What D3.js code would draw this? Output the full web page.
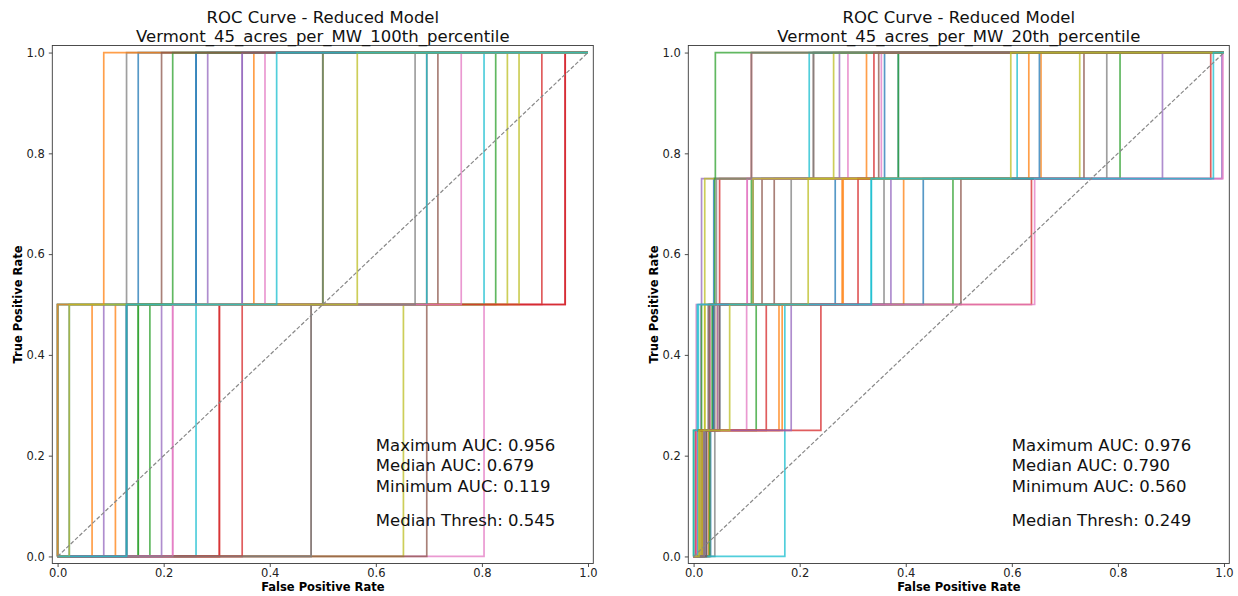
<!DOCTYPE html>
<html>
<head>
<meta charset="utf-8">
<script src="https://cdn.jsdelivr.net/npm/d3@7"></script>
<style>
  body { margin: 0; background: #fff; }
  svg { display: block; font-family: "DejaVu Sans", sans-serif; }
</style>
</head>
<body>
<div id="chart"></div>
<script>
// ROC step curves: FPR at which TPR rises by one step (1/n), in drawing order
const leftJumps = [
  [0.130, 0.152], [0.109, 0.370], [0.174, 0.826], [0.305, 0.913], [0.087, 0.283],
  [0.478, 0.717], [0.804, 0.957], [0.000, 0.130], [0.652, 0.848], [0.261, 0.804],
  [0.022, 0.261], [0.065, 0.500], [0.152, 0.500], [0.305, 0.957], [0.000, 0.348],
  [0.696, 0.696], [0.217, 0.391], [0.000, 0.500], [0.000, 0.870], [0.000, 0.696],
  [0.130, 0.261], [0.000, 0.087], [0.152, 0.217], [0.348, 0.957], [0.196, 0.348],
  [0.130, 0.196], [0.217, 0.761], [0.478, 0.674], [0.022, 0.565], [0.130, 0.413]
];

const rightJumps = [
  [0.032, 0.036, 0.038, 0.386], [0.016, 0.161, 0.280, 0.326], [0.020, 0.035, 0.109, 0.386],
  [0.006, 0.030, 0.049, 0.109], [0.004, 0.014, 0.015, 0.275], [0.016, 0.028, 0.152, 0.226],
  [0.010, 0.030, 0.101, 0.291], [0.030, 0.038, 0.184, 0.226], [0.016, 0.021, 0.021, 0.728],
  [0.008, 0.009, 0.112, 0.218],
  [0.020, 0.038, 0.267, 0.360], [0.028, 0.045, 0.396, 0.655], [0.030, 0.118, 0.489, 0.804],
  [0.004, 0.137, 0.637, 0.975], [0.024, 0.045, 0.112, 0.996], [0.012, 0.030, 0.129, 0.349],
  [0.020, 0.100, 0.101, 0.354], [0.040, 0.040, 0.359, 0.779], [0.012, 0.021, 0.112, 0.264],
  [0.172, 0.172, 0.335, 0.610],
  [0.024, 0.049, 0.433, 0.652], [0.020, 0.167, 0.282, 0.632], [0.000, 0.015, 0.040, 0.041],
  [0.004, 0.240, 0.310, 0.340], [0.020, 0.184, 0.372, 0.884], [0.024, 0.049, 0.504, 0.736],
  [0.005, 0.005, 0.643, 0.998], [0.020, 0.028, 0.043, 0.109], [0.010, 0.068, 0.216, 0.598],
  [0.000, 0.007, 0.335, 0.980]
];

const tickValues = [0, 0.2, 0.4, 0.6, 0.8, 1.0];

const leftTitle = ["ROC Curve - Reduced Model", "Vermont_45_acres_per_MW_100th_percentile"];
const rightTitle = ["ROC Curve - Reduced Model", "Vermont_45_acres_per_MW_20th_percentile"];

const leftStats = ["Maximum AUC: 0.956", "Median AUC: 0.679", "Minimum AUC: 0.119", "Median Thresh: 0.545"];
const rightStats = ["Maximum AUC: 0.976", "Median AUC: 0.790", "Minimum AUC: 0.560", "Median Thresh: 0.249"];

const W = 1238, H = 596;
const colors = d3.schemeCategory10;

const svg = d3.select("#chart").append("svg")
  .attr("width", W)
  .attr("height", H);

function drawPanel(left, right, jumps, title, stats, ylabelX) {
  const top = 45.5, bottom = 563.5;
  const x = d3.scaleLinear().domain([-0.01, 1.01]).range([left, right]);
  const y = d3.scaleLinear().domain([-0.014, 1.014]).range([bottom, top]);
  const g = svg.append("g");

  const line = d3.line().x(d => x(d[0])).y(d => y(d[1]));

  // build step points for each curve
  const curves = jumps.map(js => {
    const n = js.length;
    const pts = [[0, 0]];
    js.forEach((j, k) => {
      pts.push([j, k / n]);
      pts.push([j, (k + 1) / n]);
    });
    pts.push([1, 1]);
    return pts;
  });

  g.append("g")
    .selectAll("path")
    .data(curves)
    .join("path")
    .attr("d", line)
    .attr("fill", "none")
    .attr("stroke", (d, i) => colors[i % 10])
    .attr("stroke-width", 1.7)
    .attr("stroke-opacity", 0.75)
    .attr("stroke-linejoin", "miter");

  // chance diagonal
  g.append("path")
    .attr("d", line([[0, 0], [1, 1]]))
    .attr("fill", "none")
    .attr("stroke", "#888")
    .attr("stroke-width", 1.2)
    .attr("stroke-dasharray", "4,2");

  // frame
  g.append("rect")
    .attr("x", left).attr("y", top)
    .attr("width", right - left).attr("height", bottom - top)
    .attr("fill", "none")
    .attr("stroke", "#3a3a3a")
    .attr("stroke-width", 0.9);

  const xAxis = g.append("g")
    .attr("transform", `translate(0,${bottom})`)
    .call(d3.axisBottom(x).tickValues(tickValues).tickFormat(d3.format(".1f"))
      .tickSize(3.5).tickPadding(2).tickSizeOuter(0));
  const yAxis = g.append("g")
    .attr("transform", `translate(${left},0)`)
    .call(d3.axisLeft(y).tickValues(tickValues).tickFormat(d3.format(".1f"))
      .tickSize(3.5).tickPadding(4).tickSizeOuter(0));
  [xAxis, yAxis].forEach(a => {
    a.select(".domain").remove();
    a.selectAll("line").attr("stroke", "#3a3a3a").attr("stroke-width", 0.9);
    a.selectAll("text")
      .attr("fill", "#222")
      .style("font-size", "11.5px")
      .style("font-family", "DejaVu Sans");
  });

  // axis labels
  g.append("text")
    .attr("x", (left + right) / 2)
    .attr("y", 591)
    .attr("text-anchor", "middle")
    .style("font-size", "11.5px")
    .style("font-weight", "bold")
    .text("False Positive Rate");

  g.append("text")
    .attr("transform", `translate(${ylabelX},${(top + bottom) / 2}) rotate(-90)`)
    .attr("text-anchor", "middle")
    .attr("dy", "0.35em")
    .style("font-size", "11.5px")
    .style("font-weight", "bold")
    .text("True Positive Rate");

  // title
  g.append("text")
    .attr("x", (left + right) / 2)
    .attr("y", 23.3)
    .attr("text-anchor", "middle")
    .style("font-size", "16.5px")
    .attr("fill", "#111")
    .text(title[0]);
  g.append("text")
    .attr("x", (left + right) / 2)
    .attr("y", 41.5)
    .attr("text-anchor", "middle")
    .style("font-size", "16.5px")
    .attr("fill", "#111")
    .text(title[1]);

  // AUC summary
  const base = y(0.06);
  const offsets = [-75.5, -55, -34.5, 0];
  g.append("g")
    .selectAll("text")
    .data(stats)
    .join("text")
    .attr("x", x(0.6))
    .attr("y", (d, i) => base + offsets[i])
    .style("font-size", "16.5px")
    .attr("fill", "#111")
    .text(d => d);
}

drawPanel(52.3, 593.3, leftJumps, leftTitle, leftStats, 18);
drawPanel(688.3, 1229.3, rightJumps, rightTitle, rightStats, 654);
</script>
</body>
</html>
